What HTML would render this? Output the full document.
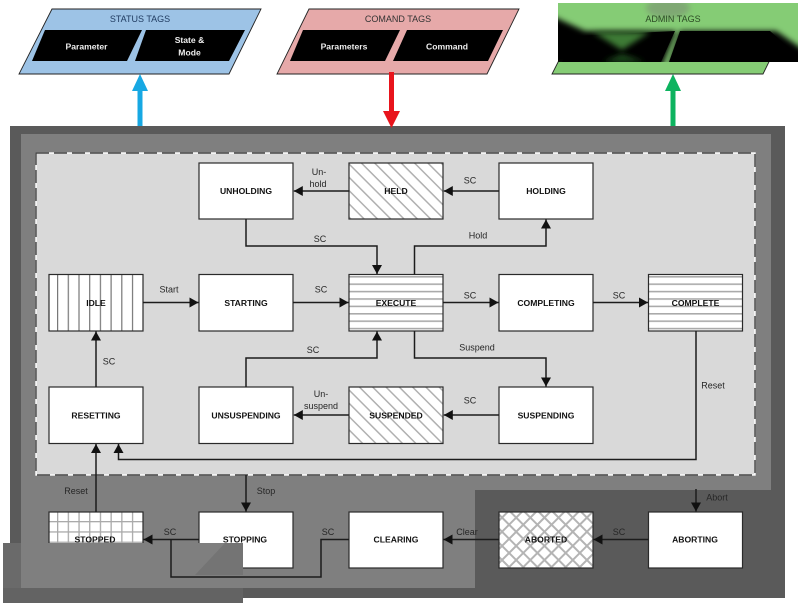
<!DOCTYPE html>
<html><head><meta charset="utf-8"><style>
html,body{margin:0;padding:0;background:#fff}
svg{display:block}
text{font-family:"Liberation Sans",sans-serif}
.b{font-size:8.6px;font-weight:bold;fill:#111;text-anchor:middle}
.l{font-size:9px;fill:#262626;text-anchor:middle}
.w{font-size:8.6px;font-weight:bold;fill:#eee;text-anchor:middle}
.c{fill:none;stroke:#1c1c1c;stroke-width:1.5}
.box{stroke:#2a2a2a;stroke-width:1.2}
</style></head><body>
<svg width="801" height="606" viewBox="0 0 801 606" xmlns="http://www.w3.org/2000/svg">
<defs>
<pattern id="hd" width="9.4" height="9.4" patternUnits="userSpaceOnUse" patternTransform="rotate(45)"><rect width="9.4" height="9.4" fill="#fff"/><rect width="9.4" height="1.5" fill="#b0b0b0"/></pattern>
<pattern id="hh" width="8" height="7.4" patternUnits="userSpaceOnUse" y="276"><rect width="8" height="7.4" fill="#fff"/><rect width="8" height="1.6" fill="#aaa"/></pattern>
<pattern id="hv" width="10.7" height="8" patternUnits="userSpaceOnUse" x="57"><rect width="10.7" height="8" fill="#fff"/><rect width="1.2" height="8" fill="#777"/></pattern>
<pattern id="hg" width="10.7" height="10.3" patternUnits="userSpaceOnUse" x="57" y="521"><rect width="10.7" height="10.3" fill="#fff"/><rect width="1.3" height="10.3" fill="#aaa"/><rect width="10.7" height="1.3" fill="#aaa"/></pattern>
<pattern id="hx" width="10" height="10" patternUnits="userSpaceOnUse" patternTransform="rotate(45)"><rect width="10" height="10" fill="#fff"/><rect width="10" height="2" fill="#b4b4b4"/><rect width="2" height="10" fill="#b4b4b4"/></pattern>
<marker id="a" markerWidth="10" markerHeight="11" refX="9" refY="5" orient="auto" markerUnits="userSpaceOnUse"><path d="M0 0L9 5L0 10Z" fill="#111"/></marker>
<filter id="bl" x="-20%" y="-40%" width="140%" height="180%"><feGaussianBlur stdDeviation="3"/></filter>
<clipPath id="adm"><rect x="558" y="3" width="240" height="59"/></clipPath>
</defs>

<rect width="801" height="606" fill="#fff"/>

<!-- Tag panels -->
<polygon points="52,9 261,9 229,74 19,74" fill="#9dc3e6" stroke="#222" stroke-width="0.9"/>
<polygon points="45,30 142,30 127,61 32,61" fill="#000"/>
<polygon points="146,30 245,30 229,61 135,61" fill="#000"/>
<text x="140" y="22" font-size="9" fill="#1f3a5f" text-anchor="middle">STATUS TAGS</text>
<text class="w" x="86.500" y="49.500">Parameter</text>
<text class="w" x="189.500" y="43">State &amp;</text>
<text class="w" x="189.500" y="55.500">Mode</text>

<polygon points="309,9 519,9 487,74 277,74" fill="#e6a9a9" stroke="#222" stroke-width="0.9"/>
<polygon points="303,30 400,30 385,61 290,61" fill="#000"/>
<polygon points="407,30 503,30 488,61 393,61" fill="#000"/>
<text x="398" y="22" font-size="9" fill="#333" text-anchor="middle">COMAND TAGS</text>
<text class="w" x="344" y="49.500">Parameters</text>
<text class="w" x="447" y="49.500">Command</text>

<polygon points="585,9 795,9 763,74 552,74" fill="#85cc75" stroke="#222" stroke-width="0.9"/>
<rect x="558" y="3" width="240" height="59" fill="#85cc75"/>
<g clip-path="url(#adm)">
<ellipse cx="668" cy="8" rx="22" ry="10" fill="#7fa873" filter="url(#bl)"/>
<polygon points="552,16 585,31 676,31 662,66 552,66" fill="#000" filter="url(#bl)"/>
<polygon points="680,31 776,31 804,50 804,66 669,66" fill="#000" filter="url(#bl)"/>
<polygon points="680,31 770,31 798,56 798,62 669,62" fill="#000"/>
<polygon points="575,36 675,31 661,62 562,62" fill="#000"/>
<polygon points="593,32 650,32 622,50" fill="#3d7a35" filter="url(#bl)"/>
<polygon points="603,62 645,62 622,54" fill="#1e4a1a" filter="url(#bl)"/>
</g>
<text x="673" y="22" font-size="9" fill="#2c4a25" text-anchor="middle">ADMIN TAGS</text>

<!-- Backgrounds -->
<rect x="10" y="126" width="775" height="472" fill="#5a5a5a"/>
<polygon points="21,134 771,134 771,490 475,490 475,588 21,588" fill="#7f7f7f"/>
<rect x="36" y="153" width="719" height="322" fill="#d9d9d9"/>
<rect x="36" y="153" width="719" height="322" fill="none" stroke="#fff" stroke-width="1.4"/>
<rect x="36" y="153" width="719" height="322" fill="none" stroke="#444" stroke-width="1.4" stroke-dasharray="13 5"/>

<!-- Big arrows -->
<rect x="137.500" y="88" width="5" height="38" fill="#17a8e3"/>
<polygon points="140,74 148,91 132,91" fill="#17a8e3"/>
<rect x="389" y="72" width="5" height="40" fill="#e8141c"/>
<polygon points="391.500,128 383,111 400,111" fill="#e8141c"/>
<rect x="670.500" y="88" width="5" height="38" fill="#0db35f"/>
<polygon points="673,74 681,91 665,91" fill="#0db35f"/>

<!-- Boxes -->
<g class="box">
<rect x="199" y="163" width="94" height="56" fill="#fff"/>
<rect x="349" y="163" width="94" height="56" fill="url(#hd)"/>
<rect x="499" y="163" width="94" height="56" fill="#fff"/>
<rect x="49" y="274.500" width="94" height="56.500" fill="url(#hv)"/>
<rect x="199" y="274.500" width="94" height="56.500" fill="#fff"/>
<rect x="349" y="274.500" width="94" height="56.500" fill="url(#hh)"/>
<rect x="499" y="274.500" width="94" height="56.500" fill="#fff"/>
<rect x="648.500" y="274.500" width="94" height="56.500" fill="url(#hh)"/>
<rect x="49" y="387" width="94" height="56.500" fill="#fff"/>
<rect x="199" y="387" width="94" height="56.500" fill="#fff"/>
<rect x="349" y="387" width="94" height="56.500" fill="url(#hd)"/>
<rect x="499" y="387" width="94" height="56.500" fill="#fff"/>
<rect x="49" y="512" width="94" height="56" fill="url(#hg)"/>
<rect x="199" y="512" width="94" height="56" fill="#fff"/>
<rect x="349" y="512" width="94" height="56" fill="#fff"/>
<rect x="499" y="512" width="94" height="56" fill="url(#hx)"/>
<rect x="648.500" y="512" width="94" height="56" fill="#fff"/>
</g>

<!-- Bottom-left overlay -->
<rect x="3" y="543" width="240" height="60" fill="#7f7f7f"/>
<rect x="3" y="543" width="18" height="60" fill="#6a6a6a"/>
<rect x="3" y="588" width="240" height="15" fill="#636363"/>
<polygon points="195,575 225,543 243,543 243,575" fill="#747474"/>

<!-- Connectors -->
<g>
<path class="c" d="M349 191H293.800" marker-end="url(#a)"/>
<path class="c" d="M499 191H443.800" marker-end="url(#a)"/>
<path class="c" d="M246 219V246H377V274" marker-end="url(#a)"/>
<path class="c" d="M414.500 274.500V246H546V219.500" marker-end="url(#a)"/>
<path class="c" d="M143 302.500H198.500" marker-end="url(#a)"/>
<path class="c" d="M293 302.500H348.500" marker-end="url(#a)"/>
<path class="c" d="M443 302.500H498.500" marker-end="url(#a)"/>
<path class="c" d="M593 302.500H648" marker-end="url(#a)"/>
<path class="c" d="M246 387V358H377V331.500" marker-end="url(#a)"/>
<path class="c" d="M414.500 331V358H546V386.500" marker-end="url(#a)"/>
<path class="c" d="M349 415H293.800" marker-end="url(#a)"/>
<path class="c" d="M499 415H443.800" marker-end="url(#a)"/>
<path class="c" d="M96 387V331.500" marker-end="url(#a)"/>
<path class="c" d="M696 331V459.500H118.500V444" marker-end="url(#a)"/>
<path class="c" d="M96 512V444" marker-end="url(#a)"/>
<path class="c" d="M246 475V511.500" marker-end="url(#a)"/>
<path class="c" d="M696 489V511.500" marker-end="url(#a)"/>
<path class="c" d="M199 539.500H143.500" marker-end="url(#a)"/>
<path class="c" d="M349 539.500H321V577H171V539.500"/>
<path class="c" d="M499 539.500H443.500" marker-end="url(#a)"/>
<path class="c" d="M648.500 539.500H593.500" marker-end="url(#a)"/>
</g>

<!-- Box labels -->
<text class="b" x="246" y="194">UNHOLDING</text>
<text class="b" x="396" y="194">HELD</text>
<text class="b" x="546" y="194">HOLDING</text>
<text class="b" x="96" y="306">IDLE</text>
<text class="b" x="246" y="306">STARTING</text>
<text class="b" x="396" y="306">EXECUTE</text>
<text class="b" x="546" y="306">COMPLETING</text>
<text class="b" x="695.500" y="306">COMPLETE</text>
<text class="b" x="96" y="418.500">RESETTING</text>
<text class="b" x="246" y="418.500">UNSUSPENDING</text>
<text class="b" x="396" y="418.500">SUSPENDED</text>
<text class="b" x="546" y="418.500">SUSPENDING</text>
<text class="b" x="95" y="542.500">STOPPED</text>
<text class="b" x="245" y="542.500">STOPPING</text>
<text class="b" x="396" y="542.500">CLEARING</text>
<text class="b" x="546" y="542.500">ABORTED</text>
<text class="b" x="695" y="542.500">ABORTING</text>

<!-- Connector labels -->
<text class="l" x="319" y="175">Un-</text>
<text class="l" x="318" y="187">hold</text>
<text class="l" x="470" y="183.500">SC</text>
<text class="l" x="320" y="242">SC</text>
<text class="l" x="478" y="238.500">Hold</text>
<text class="l" x="169" y="292.500">Start</text>
<text class="l" x="321" y="292.500">SC</text>
<text class="l" x="470" y="298.500">SC</text>
<text class="l" x="619" y="298.500">SC</text>
<text class="l" x="109" y="364.500">SC</text>
<text class="l" x="313" y="353">SC</text>
<text class="l" x="477" y="350.500">Suspend</text>
<text class="l" x="713" y="388.500">Reset</text>
<text class="l" x="321" y="397">Un-</text>
<text class="l" x="321" y="409">suspend</text>
<text class="l" x="470" y="403.500">SC</text>
<text class="l" x="76" y="494">Reset</text>
<text class="l" x="266" y="494">Stop</text>
<text class="l" x="170" y="535">SC</text>
<text class="l" x="328" y="535">SC</text>
<text class="l" x="467" y="535">Clear</text>
<text class="l" x="619" y="535">SC</text>
<text class="l" x="717" y="500.500">Abort</text>
</svg>
</body></html>
